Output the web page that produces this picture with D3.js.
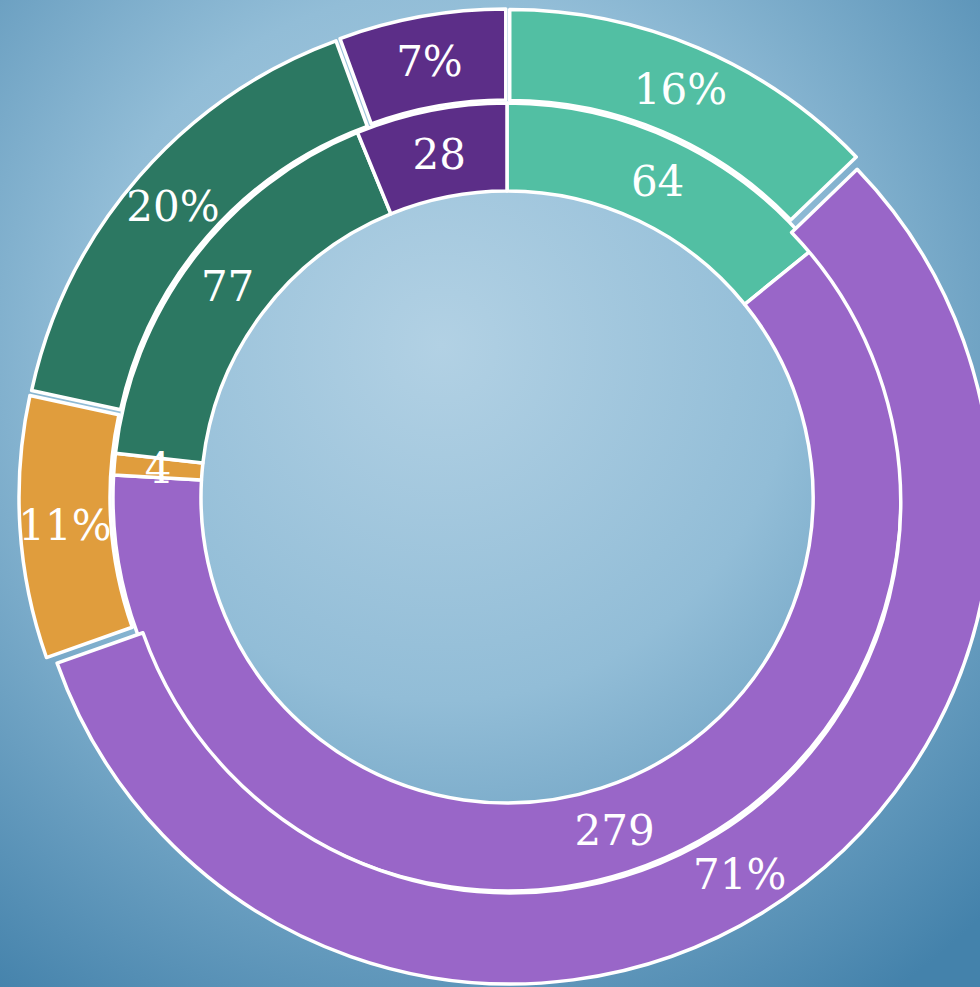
<!DOCTYPE html>
<html>
<head>
<meta charset="utf-8">
<script src="https://cdn.jsdelivr.net/npm/d3@7"></script>
<style>
  html, body { margin: 0; padding: 0; overflow: hidden; }
  svg { display: block; }
</style>
</head>
<body>
<svg id="chart"></svg>
<script>
// inner ring: counts, outer ring: shares (as printed on the slide)
const innerValues = [64, 279, 4, 77, 28];
const outerValues = [16, 71, 11, 20, 7];
const sliceColors = ["#52bfa3", "#9966c8", "#e09d3d", "#2c7862", "#5c2e88"];

const width = 980;
const height = 987;
const cx = 507, cy = 497;

const svg = d3.select("#chart").attr("width", width).attr("height", height);

// background: blue wallpaper, lighter in the middle
const defs = svg.append("defs");
const bg = defs.append("radialGradient").attr("id", "bg")
    .attr("cx", "45%").attr("cy", "35%").attr("r", "80%");
bg.append("stop").attr("offset", "0%").attr("stop-color", "#b2d1e4");
bg.append("stop").attr("offset", "45%").attr("stop-color", "#92bdd7");
bg.append("stop").attr("offset", "100%").attr("stop-color", "#4482ab");

svg.append("rect").attr("width", width).attr("height", height).attr("fill", "url(#bg)");

const g = svg.append("g").attr("transform", `translate(${cx},${cy})`);

const pie = d3.pie().sort(null).value(d => d);

// inner ring
const innerArc = d3.arc().innerRadius(306).outerRadius(394);
const innerData = pie(innerValues);

g.append("g").selectAll("path")
    .data(innerData)
    .join("path")
    .attr("d", innerArc)
    .attr("fill", (d, i) => sliceColors[i])
    .attr("stroke", "white")
    .attr("stroke-width", 3.5)
    .attr("stroke-linejoin", "round");

// outer ring, slices pulled out a little
const explode = 7;
const outerArc = d3.arc().innerRadius(390).outerRadius(481);
const outerData = pie(outerValues);

function shift(d)
{
    const a = (d.startAngle + d.endAngle) / 2;
    return `translate(${Math.sin(a) * explode},${-Math.cos(a) * explode})`;
}

g.append("g").selectAll("path")
    .data(outerData)
    .join("path")
    .attr("d", outerArc)
    .attr("transform", shift)
    .attr("fill", (d, i) => sliceColors[i])
    .attr("stroke", "white")
    .attr("stroke-width", 3.5)
    .attr("stroke-linejoin", "round");

// labels
const font = "'DejaVu Serif', serif";

g.append("g").selectAll("text")
    .data(innerData)
    .join("text")
    .attr("transform", d => `translate(${innerArc.centroid(d)})`)
    .attr("text-anchor", "middle")
    .attr("dy", "0.36em")
    .attr("fill", "white")
    .attr("font-family", font)
    .attr("font-size", 42)
    .text(d => d.data);

g.append("g").selectAll("text")
    .data(outerData)
    .join("text")
    .attr("transform", d => {
        const a = (d.startAngle + d.endAngle) / 2;
        const r = 443;
        return `translate(${Math.sin(a) * r},${-Math.cos(a) * r})`;
    })
    .attr("text-anchor", "middle")
    .attr("dy", "0.36em")
    .attr("fill", "white")
    .attr("font-family", font)
    .attr("font-size", 42)
    .text(d => d.data + "%");
</script>
</body>
</html>
